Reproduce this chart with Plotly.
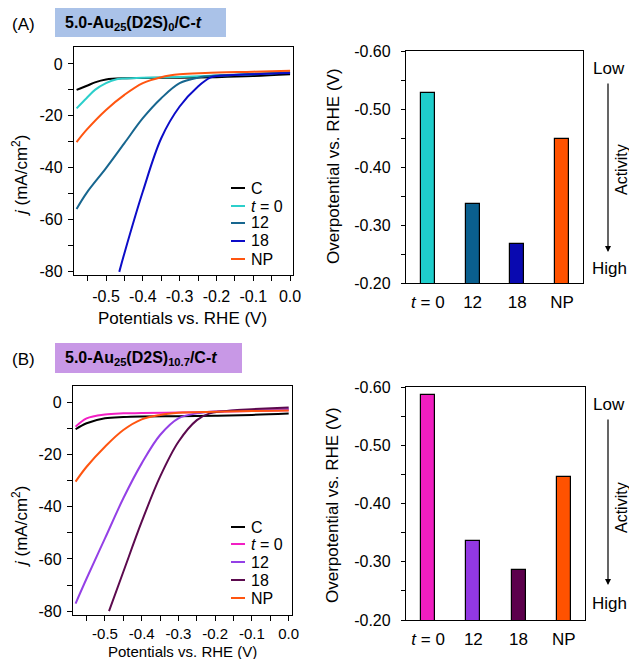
import plotly.graph_objects as go

W, H = 621, 651      # figure size; the page adds an 8 px body margin on every side
OFF = 8

# ---------------- data ----------------
# Panel A, LSV curves
A_C_x = [-0.58, -0.55, -0.53, -0.50, -0.45, -0.40, -0.30, -0.20, -0.10, 0.0]
A_C_y = [-10.0, -8.3, -7.1, -6.0, -5.5, -5.4, -5.3, -5.1, -4.7, -4.0]
A_t0_x = [-0.58, -0.553, -0.53, -0.50, -0.471, -0.45, -0.40, -0.30, -0.20, -0.10, 0.0]
A_t0_y = [-17.1, -13.2, -10.0, -7.4, -5.9, -5.6, -5.3, -5.0, -4.5, -4.0, -3.3]
A_12_x = [-0.58, -0.553, -0.50, -0.45, -0.40, -0.35, -0.30, -0.25, -0.20, -0.10, 0.0]
A_12_y = [-55.8, -49.7, -40.1, -30.5, -20.9, -13.2, -7.4, -5.3, -4.5, -3.8, -3.2]
A_18_x = [-0.464, -0.45, -0.40, -0.35, -0.30, -0.25, -0.217, -0.20, -0.10, 0.0]
A_18_y = [-80.0, -72.8, -49.1, -28.6, -16.4, -8.7, -5.3, -4.7, -4.0, -3.5]
A_NP_x = [-0.58, -0.553, -0.50, -0.45, -0.40, -0.35, -0.30, -0.23, -0.10, 0.0]
A_NP_y = [-30.1, -25.4, -17.7, -11.9, -7.4, -5.1, -4.0, -3.5, -3.0, -2.6]

# Panel B, LSV curves
B_C_x = [-0.58, -0.55, -0.50, -0.45, -0.40, -0.30, -0.20, -0.10, 0.0]
B_C_y = [-10.2, -7.9, -6.0, -5.5, -5.3, -5.2, -5.0, -4.7, -4.2]
B_t0_x = [-0.58, -0.55, -0.50, -0.45, -0.40, -0.30, -0.20, -0.10, 0.0]
B_t0_y = [-9.2, -6.0, -4.5, -4.1, -4.0, -3.8, -3.5, -3.2, -2.9]
B_12_x = [-0.58, -0.55, -0.50, -0.45, -0.40, -0.35, -0.30, -0.25, -0.20, -0.10, 0.0]
B_12_y = [-77.1, -67.5, -52.1, -36.7, -23.3, -12.4, -6.0, -4.1, -3.4, -2.8, -2.4]
B_18_x = [-0.489, -0.45, -0.40, -0.35, -0.30, -0.25, -0.215, -0.14, -0.10, 0.0]
B_18_y = [-80.0, -64.9, -45.7, -28.4, -15.0, -6.7, -4.1, -2.8, -2.5, -1.9]
B_NP_x = [-0.58, -0.55, -0.50, -0.45, -0.40, -0.35, -0.30, -0.20, -0.10, 0.0]
B_NP_y = [-30.3, -24.6, -16.9, -10.5, -6.4, -4.7, -3.9, -3.5, -3.2, -3.0]

legend_names = ["C", "<i>t</i> = 0", "12", "18", "NP"]
bar_categories = ["<i>t</i> = 0", "12", "18", "NP"]
A_overpotential = [-0.527, -0.337, -0.267, -0.448]
B_overpotential = [-0.586, -0.336, -0.286, -0.445]

# tick labels (hyphen-minus as in the original)
pot_tickvals = [-0.5, -0.4, -0.3, -0.2, -0.1, 0.0]
pot_ticktext = ["-0.5", "-0.4", "-0.3", "-0.2", "-0.1", "0.0"]
j_tickvals = [0, -20, -40, -60, -80]
j_ticktext = ["0", "-20", "-40", "-60", "-80"]
ov_tickvals = [-0.2, -0.3, -0.4, -0.5, -0.6]
ov_ticktext = ["-0.20", "-0.30", "-0.40", "-0.50", "-0.60"]

A_colors = ["#000000", "#2ccfcb", "#17668f", "#0c0cc8", "#ff5510"]
B_colors = ["#000000", "#f21fc4", "#9440e6", "#5c0a4e", "#ff5510"]
A_bar_colors = ["#1fcdcb", "#0a5f8e", "#0909b0", "#ff5200"]
B_bar_colors = ["#f01ec0", "#9238e2", "#5c004c", "#ff5200"]

FONT = "Liberation Sans, Arial, Helvetica, sans-serif"

fig = go.Figure()

def px2x(p):
    return (p - OFF) / W

def px2y(p):
    return 1 - (p - OFF) / H

A_curves = [(A_C_x, A_C_y), (A_t0_x, A_t0_y), (A_12_x, A_12_y), (A_18_x, A_18_y), (A_NP_x, A_NP_y)]
B_curves = [(B_C_x, B_C_y), (B_t0_x, B_t0_y), (B_12_x, B_12_y), (B_18_x, B_18_y), (B_NP_x, B_NP_y)]

for (xs, ys), name, col in zip(A_curves, legend_names, A_colors):
    fig.add_trace(go.Scatter(x=xs, y=ys, mode="lines", name=name, showlegend=False,
                             line=dict(color=col, width=2, shape="spline", smoothing=1.0),
                             xaxis="x", yaxis="y"))
for (xs, ys), name, col in zip(B_curves, legend_names, B_colors):
    fig.add_trace(go.Scatter(x=xs, y=ys, mode="lines", name=name, showlegend=False,
                             line=dict(color=col, width=2, shape="spline", smoothing=1.0),
                             xaxis="x3", yaxis="y3"))

fig.add_trace(go.Bar(x=list(range(4)), y=A_overpotential, width=0.31,
                     marker=dict(color=A_bar_colors, line=dict(color="black", width=1.2)),
                     xaxis="x2", yaxis="y2", showlegend=False))
fig.add_trace(go.Bar(x=list(range(4)), y=B_overpotential, width=0.31,
                     marker=dict(color=B_bar_colors, line=dict(color="black", width=1.2)),
                     xaxis="x4", yaxis="y4", showlegend=False))

def lsv_x(domain, anchor, rng, standoff=2, fsize=16):
    return dict(domain=domain, anchor=anchor, range=rng, showgrid=False, zeroline=False, automargin=False,
                showline=True, linecolor="black", linewidth=1.3, mirror=True,
                ticks="outside", ticklen=5, tickwidth=1.2, tickcolor="black", ticklabelstandoff=standoff,
                tickmode="array", tickvals=pot_tickvals, ticktext=pot_ticktext,
                tickfont=dict(family=FONT, size=fsize, color="black"),
                minor=dict(dtick=0.05, tick0=0, ticks="outside", ticklen=5, tickwidth=1.2, tickcolor="black"))

def lsv_y(domain, anchor, rng):
    return dict(domain=domain, anchor=anchor, range=rng, showgrid=False, zeroline=False, automargin=False,
                showline=True, linecolor="black", linewidth=1.3, mirror=True,
                ticks="outside", ticklen=5, tickwidth=1.2, tickcolor="black", ticklabelstandoff=2,
                tickmode="array", tickvals=j_tickvals, ticktext=j_ticktext,
                tickfont=dict(family=FONT, size=16, color="black"),
                minor=dict(dtick=10, tick0=0, ticks="outside", ticklen=5, tickwidth=1.2, tickcolor="black"))

def bar_x(domain, anchor):
    return dict(domain=domain, anchor=anchor, range=[-0.49, 3.47], showgrid=False, zeroline=False,
                automargin=False,
                showline=True, linecolor="black", linewidth=1.3, mirror=True,
                ticks="", ticklabelstandoff=3, tickmode="array", tickvals=list(range(4)), ticktext=bar_categories,
                tickfont=dict(family=FONT, size=17, color="black"))

def bar_y(domain, anchor):
    return dict(domain=domain, anchor=anchor, range=[-0.2, -0.6], showgrid=False, zeroline=False,
                automargin=False,
                showline=True, linecolor="black", linewidth=1.3, mirror=True,
                ticks="outside", ticklen=4, tickwidth=1.2, tickcolor="black", ticklabelstandoff=7,
                tickmode="array", tickvals=ov_tickvals, ticktext=ov_ticktext,
                tickfont=dict(family=FONT, size=16, color="black"),
                minor=dict(dtick=0.05, tick0=0, ticks="outside", ticklen=4, tickwidth=1.2, tickcolor="black"))

fig.update_layout(
    width=W, height=H, margin=dict(l=0, r=0, t=0, b=0, autoexpand=False),
    paper_bgcolor="white", plot_bgcolor="white",
    font=dict(family=FONT, size=16, color="black"),
    xaxis=lsv_x([px2x(74), px2x(293)], "y", [-0.587, 0.008]),
    yaxis=lsv_y([px2y(275), px2y(47)], "x", [-81.2, 6.5]),
    xaxis2=bar_x([px2x(406), px2x(583)], "y2"),
    yaxis2=bar_y([px2y(283), px2y(51)], "x2"),
    xaxis3=lsv_x([px2x(73), px2x(292)], "y3", [-0.587, 0.009], standoff=0, fsize=15),
    yaxis3=lsv_y([px2y(615), px2y(386)], "x3", [-81.5, 6.4]),
    xaxis4=bar_x([px2x(406), px2x(585)], "y4"),
    yaxis4=bar_y([px2y(620), px2y(387)], "x4"),
    bargap=0,
    showlegend=False,
)

shapes = [
    dict(type="rect", xref="paper", yref="paper", x0=px2x(55), x1=px2x(226), y0=px2y(37), y1=px2y(8),
         fillcolor="#aac2e8", line=dict(width=0), layer="below"),
    dict(type="rect", xref="paper", yref="paper", x0=px2x(55), x1=px2x(242), y0=px2y(373), y1=px2y(343),
         fillcolor="#c898e6", line=dict(width=0), layer="below"),
]

ann = []
def text(x, y, s, size=16, xanchor="center", yanchor="middle", angle=0):
    ann.append(dict(x=px2x(x), y=px2y(y), xref="paper", yref="paper", text=s, showarrow=False,
                    xanchor=xanchor, yanchor=yanchor, textangle=angle,
                    font=dict(family=FONT, size=size, color="black")))

# manual legends (short line keys as in the original)
A_leg_y = [188, 206, 223, 241, 259]
B_leg_y = [527, 544, 562, 580, 598]
for ys, cols in [(A_leg_y, A_colors), (B_leg_y, B_colors)]:
    for yy, name, col in zip(ys, legend_names, cols):
        shapes.append(dict(type="line", xref="paper", yref="paper", x0=px2x(231), x1=px2x(245),
                           y0=px2y(yy), y1=px2y(yy), line=dict(color=col, width=2)))
        text(249, yy, name, 16, xanchor="left")

fig.update_layout(shapes=shapes)

text(23, 25, "(A)", 17)
text(63, 23, "<b>5.0-Au<sub>25</sub>(D2S)<sub>0</sub>/C-<i>t</i></b>", 16, xanchor="left")
text(23, 359, "(B)", 17)
text(63, 358, "<b>5.0-Au<sub>25</sub>(D2S)<sub>10.7</sub>/C-<i>t</i></b>", 16, xanchor="left")

text(183, 318, "Potentials vs. RHE (V)", 17)
text(183, 651, "Potentials vs. RHE (V)", 15)
text(20, 176, "<i>j</i> (mA/cm<sup>2</sup>)", 17, angle=-90)
text(20, 527, "<i>j</i> (mA/cm<sup>2</sup>)", 17, angle=-90)
text(333, 166, "Overpotential vs. RHE (V)", 17, angle=-90)
text(332, 505, "Overpotential vs. RHE (V)", 17, angle=-90)

text(609, 68, "Low", 17)
text(609, 268, "High", 17)
text(621, 170, "Activity", 16, angle=-90)
text(609, 405, "Low", 17)
text(609, 603, "High", 17)
text(621, 508, "Activity", 16, angle=-90)

for y_tail, y_head in [(82, 252), (418, 585)]:
    ann.append(dict(x=px2x(608), y=px2y(y_head), xref="paper", yref="paper",
                    ax=0, ay=-(y_head - y_tail), axref="pixel", ayref="pixel",
                    showarrow=True, arrowhead=2, arrowsize=1, arrowwidth=1.2,
                    arrowcolor="black", text=""))

fig.update_layout(annotations=ann)

fig.write_html("out.html")
